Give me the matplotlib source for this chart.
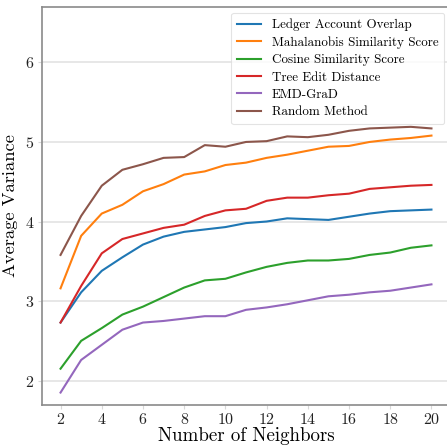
import matplotlib
matplotlib.use("Agg")
import matplotlib.pyplot as plt

plt.rcParams['font.family'] = 'serif'
plt.rcParams['font.serif'] = ['cmr10']
plt.rcParams['mathtext.fontset'] = 'cm'
plt.rcParams['axes.unicode_minus'] = False
plt.rcParams['axes.formatter.use_mathtext'] = True

neighbors = list(range(2, 21))
ledger = [2.73, 3.11, 3.38, 3.55, 3.71, 3.81, 3.87, 3.90, 3.93, 3.98, 4.00, 4.04, 4.03, 4.02, 4.06, 4.10, 4.13, 4.14, 4.15]
mahalanobis = [3.16, 3.82, 4.10, 4.21, 4.38, 4.47, 4.59, 4.63, 4.71, 4.74, 4.80, 4.84, 4.89, 4.94, 4.95, 5.00, 5.03, 5.05, 5.08]
cosine = [2.15, 2.50, 2.66, 2.83, 2.93, 3.05, 3.17, 3.26, 3.28, 3.36, 3.43, 3.48, 3.51, 3.51, 3.53, 3.58, 3.61, 3.67, 3.70]
tree_edit = [2.73, 3.19, 3.60, 3.78, 3.85, 3.92, 3.96, 4.07, 4.14, 4.16, 4.26, 4.30, 4.30, 4.33, 4.35, 4.41, 4.43, 4.45, 4.46]
emd_grad = [1.85, 2.26, 2.45, 2.64, 2.73, 2.75, 2.78, 2.81, 2.81, 2.89, 2.92, 2.96, 3.01, 3.06, 3.08, 3.11, 3.13, 3.17, 3.21]
random_method = [3.58, 4.07, 4.45, 4.65, 4.72, 4.80, 4.81, 4.96, 4.94, 5.00, 5.01, 5.07, 5.06, 5.09, 5.14, 5.17, 5.18, 5.19, 5.17]

series = [
    ("Ledger Account Overlap", ledger, "#1f77b4"),
    ("Mahalanobis Similarity Score", mahalanobis, "#ff7f0e"),
    ("Cosine Similarity Score", cosine, "#2ca02c"),
    ("Tree Edit Distance", tree_edit, "#d62728"),
    ("EMD-GraD", emd_grad, "#9467bd"),
    ("Random Method", random_method, "#8c564b"),
]

fig = plt.figure(figsize=(4.47, 4.48), dpi=100)
ax = fig.add_axes([42/447, 1 - 404.5/448, (450 - 42)/447, (404.5 - 6.7)/448])

for name, vals, col in series:
    ax.plot(neighbors, vals, color=col, lw=1.5, label=name)

ax.set_xlim(1.1, 20.9)
ax.set_ylim(1.7, 6.7)
ax.set_xticks(range(2, 21, 2))
ax.set_yticks([2, 3, 4, 5, 6])
ax.yaxis.grid(True, color='#e3e3e3', lw=1.2)
ax.set_axisbelow(True)
for s in ax.spines.values():
    s.set_color('#8a8a8a')
    s.set_linewidth(1.2)
ax.tick_params(axis='both', colors='#d8d8d8', labelcolor='#222222', labelsize=11.5, length=3, pad=2.5)
ax.set_xlabel("Number of Neighbors", fontsize=13.6, labelpad=0)
ax.set_ylabel("Average Variance", fontsize=13.3, labelpad=5)

leg = ax.legend(loc='upper right', fontsize=9.4, frameon=True, fancybox=True,
                borderaxespad=0.45, handlelength=1.8, labelspacing=0.4,
                handletextpad=0.85, borderpad=0.45)
leg.get_frame().set_edgecolor('#dddddd')
leg.get_frame().set_linewidth(0.8)

fig.savefig("out.png", dpi=100)
